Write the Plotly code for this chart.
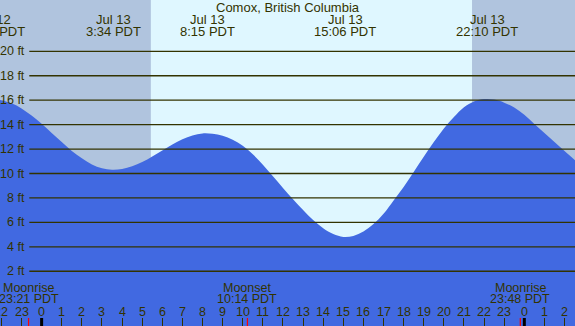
import plotly.graph_objects as go

# ---- data (hours relative to midnight Jul 13, feet) ----
tide_hours = [-2.1, -1.5, -1.0, -0.5, 0.0, 0.5, 1.0, 1.5, 2.0, 2.5, 3.0, 3.5,
              4.0, 4.5, 5.0, 5.5, 6.0, 6.5, 7.0, 7.5, 8.0, 8.5, 9.0, 9.5,
              10.0, 10.5, 11.0, 11.5, 12.0, 12.5, 13.0, 13.5, 14.0, 14.5, 15.0, 15.5,
              16.0, 16.5, 17.0, 17.5, 18.0, 18.5, 19.0, 19.5, 20.0, 20.5, 21.0, 21.5,
              22.0, 22.5, 23.0, 23.5, 24.0, 24.5, 25.0, 25.5, 26.0, 26.55]
tide_feet = [16.02, 15.75, 15.33, 14.75, 14.07, 13.32, 12.57, 11.85, 11.24, 10.74, 10.43, 10.30,
             10.36, 10.59, 10.94, 11.40, 11.89, 12.38, 12.80, 13.12, 13.28, 13.25, 13.10, 12.77,
             12.27, 11.57, 10.72, 9.77, 8.82, 7.89, 7.01, 6.19, 5.52, 5.05, 4.81, 4.89,
             5.25, 5.86, 6.70, 7.80, 8.90, 10.12, 11.37, 12.57, 13.68, 14.62, 15.42, 15.90,
             16.09, 16.05, 15.80, 15.40, 14.80, 14.05, 13.32, 12.58, 11.84, 11.05]

event_hours = [-2.37, 3.567, 8.25, 15.1, 22.167]
event_dates = ["Jul 12", "Jul 13", "Jul 13", "Jul 13", "Jul 13"]
event_times = ["21:38 PDT", "3:34 PDT", "8:15 PDT", "15:06 PDT", "22:10 PDT"]

moon_hours = [-0.65, 10.233, 23.8]
moon_names = ["Moonrise", "Moonset", "Moonrise"]
moon_times = ["23:21 PDT", "10:14 PDT", "23:48 PDT"]

sunrise_h = 5.43
sunset_h = 21.40
midnights = [0, 24]

grid_levels = [2, 4, 6, 8, 10, 12, 14, 16, 18, 20]
hour_ticks = list(range(-2, 27))
hour_labels = [str(h % 24) for h in hour_ticks]

title = "Comox, British Columbia"

# ---- styling ----
XMIN, XMAX = -2.07, 26.52
YMIN, YMAX = -2.48, 24.2
W, H = 575, 326
NIGHT = "#b0c4de"
DAY = "#dff7ff"
WATER = "#4169e1"
INK = "#333300"
FONT = "Liberation Sans, Arial, sans-serif"


def px(h):
    return (h - XMIN) / (XMAX - XMIN)


def py_px(ypix):
    return 1 - ypix / H


fig = go.Figure()
fig.add_trace(go.Scatter(x=tide_hours, y=tide_feet, mode="lines",
                         line=dict(color=WATER, width=0, shape="spline", smoothing=1.0),
                         fill="tozeroy", fillcolor=WATER, hoverinfo="skip",
                         showlegend=False))

shapes = []
# day band
shapes.append(dict(type="rect", xref="x", yref="paper", x0=sunrise_h, x1=sunset_h,
                   y0=0, y1=1, fillcolor=DAY, line=dict(width=0), layer="below"))
# water below datum
shapes.append(dict(type="rect", xref="paper", yref="y", x0=0, x1=1, y0=YMIN - 5, y1=1,
                   fillcolor=WATER, line=dict(width=0), layer="below"))
# grid lines
for lv in grid_levels:
    shapes.append(dict(type="line", xref="paper", yref="y", x0=29.3 / W, x1=1.01,
                       y0=lv, y1=lv, line=dict(color=INK, width=1.3), layer="above"))
# midnight ticks
for m in midnights:
    shapes.append(dict(type="line", xref="x", yref="paper", x0=m, x1=m, y0=0,
                       y1=8 / H, line=dict(color="#000000", width=3), layer="above"))
# moon ticks
for mh in moon_hours:
    shapes.append(dict(type="line", xref="x", yref="paper", x0=mh, x1=mh, y0=0,
                       y1=8 / H, line=dict(color="#ff0000", width=1.2), layer="above"))

ann = []
ann.append(dict(text=title, x=0.5, y=py_px(8), xref="paper", yref="paper",
                showarrow=False, xanchor="center", yanchor="middle",
                font=dict(size=13, color=INK, family=FONT)))
for h, d, t in zip(event_hours, event_dates, event_times):
    ann.append(dict(text=d, x=px(h), y=py_px(20), xref="paper", yref="paper",
                    showarrow=False, xanchor="center", yanchor="middle",
                    font=dict(size=13, color=INK, family=FONT)))
    ann.append(dict(text=t, x=px(h), y=py_px(31.5), xref="paper", yref="paper",
                    showarrow=False, xanchor="center", yanchor="middle",
                    font=dict(size=13, color=INK, family=FONT)))
for h, n, t in zip(moon_hours, moon_names, moon_times):
    ann.append(dict(text=n, x=px(h), y=py_px(287.5), xref="paper", yref="paper",
                    showarrow=False, xanchor="center", yanchor="middle",
                    font=dict(size=12.5, color=INK, family=FONT)))
    ann.append(dict(text=t, x=px(h), y=py_px(298.5), xref="paper", yref="paper",
                    showarrow=False, xanchor="center", yanchor="middle",
                    font=dict(size=12.5, color=INK, family=FONT)))
for h, lab in zip(hour_ticks, hour_labels):
    ann.append(dict(text=lab, x=px(h), y=py_px(312), xref="paper", yref="paper",
                    showarrow=False, xanchor="center", yanchor="middle",
                    font=dict(size=12.5, color=INK, family=FONT)))
for lv in grid_levels:
    ann.append(dict(text=f"{lv} ft", x=26.5 / W, y=lv, xref="paper", yref="y",
                    showarrow=False, xanchor="right", yanchor="middle",
                    font=dict(size=12.5, color=INK, family=FONT)))

fig.update_layout(
    width=W, height=H, margin=dict(l=0, r=0, t=0, b=0, pad=0, autoexpand=False),
    paper_bgcolor=NIGHT, plot_bgcolor=NIGHT,
    shapes=shapes, annotations=ann, showlegend=False,
    xaxis=dict(range=[XMIN, XMAX], visible=True, showgrid=False, zeroline=False,
               showticklabels=False, ticks="inside", tickvals=hour_ticks,
               ticklen=8, tickcolor=INK, tickwidth=1, showline=False, fixedrange=True,
               automargin=False),
    yaxis=dict(range=[YMIN, YMAX], visible=False, showgrid=False, zeroline=False,
               fixedrange=True, automargin=False),
)

fig.write_html("out.html", config={"displayModeBar": False},
               post_script="document.body.style.margin='0';document.body.style.padding='0';"
                           "document.body.style.overflow='hidden';")
